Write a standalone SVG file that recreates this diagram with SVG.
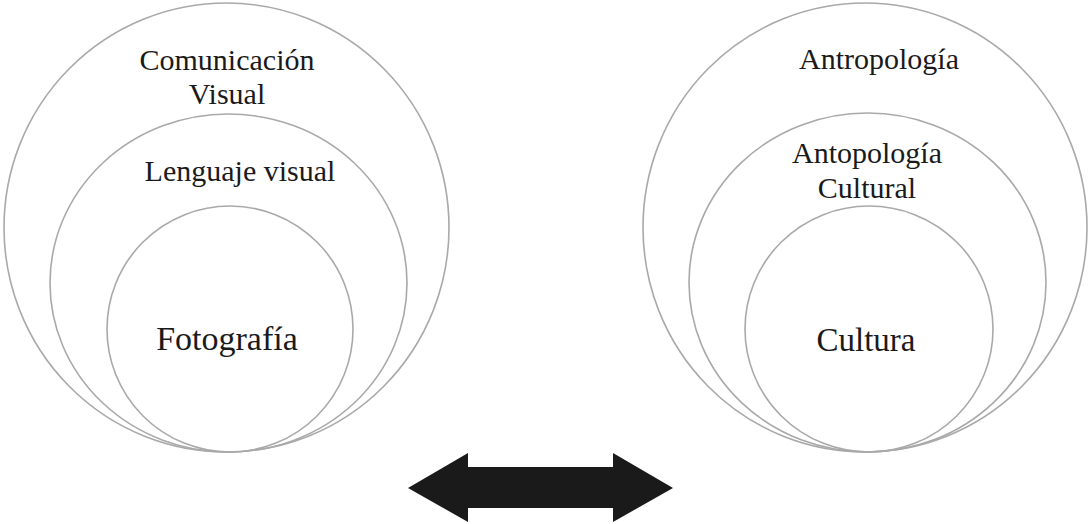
<svg xmlns="http://www.w3.org/2000/svg" width="1088" height="524" viewBox="0 0 1088 524">
  <style>
    .ring { fill: none; stroke: #a9a9a9; stroke-width: 1.6; }
    .lbl { font-family: "Liberation Serif", "Times New Roman", serif; fill: #1a1a1a; text-anchor: middle; }
  </style>
  <rect width="1088" height="524" fill="#ffffff"/>

  <!-- left set of nested circles -->
  <g id="comunicacion-visual">
    <ellipse class="ring" cx="226.5" cy="227.5" rx="222.5" ry="224.5"/>
    <text class="lbl" x="227" y="70" font-size="30">Comunicación</text>
    <text class="lbl" x="227" y="104" font-size="30">Visual</text>
  </g>
  <g id="lenguaje-visual">
    <ellipse class="ring" cx="228.5" cy="283" rx="178.5" ry="169"/>
    <text class="lbl" x="240" y="181" font-size="30">Lenguaje visual</text>
  </g>
  <g id="fotografia">
    <ellipse class="ring" cx="230" cy="329" rx="123" ry="123"/>
    <text class="lbl" x="227" y="350" font-size="34">Fotografía</text>
  </g>

  <!-- right set of nested circles -->
  <g id="antropologia">
    <ellipse class="ring" cx="865" cy="227.5" rx="222" ry="224.5"/>
    <text class="lbl" x="879" y="69" font-size="30">Antropología</text>
  </g>
  <g id="antropologia-cultural">
    <ellipse class="ring" cx="867.5" cy="282.5" rx="178.5" ry="169.5"/>
    <text class="lbl" x="867" y="163" font-size="30">Antopología</text>
    <text class="lbl" x="867" y="198" font-size="30">Cultural</text>
  </g>
  <g id="cultura">
    <ellipse class="ring" cx="869" cy="329" rx="124" ry="123"/>
    <text class="lbl" x="866" y="351" font-size="33">Cultura</text>
  </g>

  <!-- two-way block arrow between the sets -->
  <g id="connectors">
    <polygon fill="#1a1a1a" points="408,488 468,453 468,467 613,467 613,453 673,488 613,522 613,508 468,508 468,522"/>
  </g>
</svg>
